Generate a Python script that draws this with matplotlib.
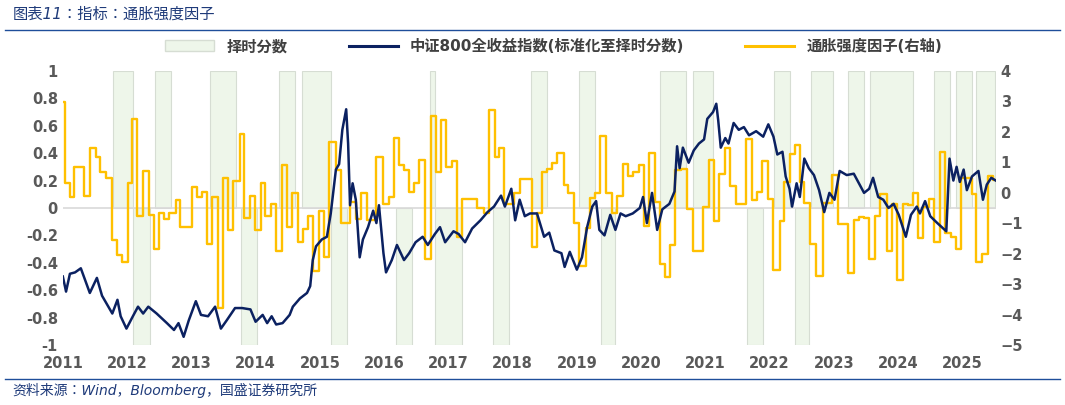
import numpy as np
import matplotlib.pyplot as plt
from matplotlib import font_manager
from matplotlib.patches import Patch
from matplotlib.lines import Line2D

cjk = [f for f in font_manager.findSystemFonts() if 'CJK' in f and 'Bold' not in f]
cjkb = [f for f in font_manager.findSystemFonts() if 'CJK' in f and 'Bold' in f]
for f in cjk + cjkb:
    font_manager.fontManager.addfont(f)
names = []
for f in cjk[:1] + cjkb[:1]:
    n = font_manager.FontProperties(fname=f).get_name()
    if n not in names:
        names.append(n)
plt.rcParams['font.family'] = ['DejaVu Sans'] + names + ['Noto Sans CJK SC', 'Noto Sans CJK JP']

# timing signal blocks: start year, end year, signal (+1 / -1)
sig_start = [2011.78, 2012.09, 2012.43, 2013.29, 2013.78, 2014.36, 2014.72, 2015.18, 2016.19, 2016.71,
             2016.80, 2017.70, 2018.29, 2019.04, 2019.37, 2020.30, 2020.81, 2021.65, 2022.07, 2022.40,
             2022.64, 2023.22, 2023.57, 2024.56, 2024.90, 2025.22]
sig_end = [2012.09, 2012.35, 2012.68, 2013.69, 2014.02, 2014.61, 2015.18, 2015.43, 2016.44, 2016.80,
           2017.21, 2017.95, 2018.53, 2019.29, 2019.60, 2020.70, 2021.12, 2021.89, 2022.32, 2022.62,
           2022.99, 2023.47, 2024.23, 2024.81, 2025.15, 2025.51]
sig_val = [1, -1, 1, 1, -1, 1, 1, -1, -1, 1,
           -1, -1, 1, 1, -1, 1, 1, -1, 1, -1,
           1, 1, 1, 1, 1, 1]

# CSI 800 (standardised) sampled points
csi_t = [2011.00, 2011.05, 2011.11, 2011.19, 2011.28, 2011.35, 2011.42, 2011.53, 2011.61, 2011.77,
         2011.85, 2011.90, 2011.99, 2012.09, 2012.17, 2012.25, 2012.33, 2012.46, 2012.62, 2012.73,
         2012.80, 2012.88, 2012.96, 2013.07, 2013.15, 2013.26, 2013.37, 2013.46, 2013.55, 2013.68,
         2013.79, 2013.92, 2014.00, 2014.11, 2014.18, 2014.25, 2014.32, 2014.42, 2014.53, 2014.58,
         2014.69, 2014.80, 2014.85, 2014.89, 2014.94, 2015.03, 2015.11, 2015.17, 2015.25, 2015.30,
         2015.35, 2015.41, 2015.44, 2015.47, 2015.51, 2015.56, 2015.62, 2015.67, 2015.75, 2015.83,
         2015.88, 2015.92, 2015.99, 2016.03, 2016.12, 2016.20, 2016.31, 2016.39, 2016.49, 2016.60,
         2016.68, 2016.79, 2016.87, 2016.95, 2017.08, 2017.16, 2017.26, 2017.37, 2017.50, 2017.61,
         2017.71, 2017.82, 2017.88, 2017.98, 2018.04, 2018.11, 2018.19, 2018.27,
         2018.38, 2018.49, 2018.57, 2018.65, 2018.76, 2018.81, 2018.89, 2019.00, 2019.08, 2019.16,
         2019.24, 2019.30, 2019.35, 2019.43, 2019.52, 2019.60, 2019.68, 2019.76, 2019.87, 2019.98,
         2020.03, 2020.09, 2020.17, 2020.25, 2020.33, 2020.44, 2020.52, 2020.56, 2020.60, 2020.65,
         2020.74, 2020.82, 2020.90, 2020.98, 2021.03, 2021.12, 2021.17, 2021.20, 2021.24, 2021.31,
         2021.36, 2021.44, 2021.52, 2021.60, 2021.68, 2021.79, 2021.90, 2021.98, 2022.06, 2022.12,
         2022.20, 2022.25, 2022.31, 2022.35, 2022.42, 2022.47, 2022.54, 2022.61, 2022.69, 2022.77,
         2022.85, 2022.93, 2023.01, 2023.09, 2023.20, 2023.31, 2023.39, 2023.47, 2023.55, 2023.61,
         2023.69, 2023.77, 2023.85, 2023.93, 2024.01, 2024.12, 2024.20, 2024.29, 2024.34, 2024.42,
         2024.50, 2024.61, 2024.75, 2024.80, 2024.86, 2024.91, 2024.96, 2025.02, 2025.07, 2025.15,
         2025.25, 2025.32, 2025.38, 2025.45, 2025.52]
csi_v = [-0.50, -0.61, -0.48, -0.47, -0.44, -0.53, -0.62, -0.51, -0.64, -0.77,
         -0.67, -0.79, -0.88, -0.79, -0.72, -0.77, -0.72, -0.77, -0.84, -0.89,
         -0.84, -0.94, -0.82, -0.68, -0.78, -0.79, -0.72, -0.88, -0.82, -0.73,
         -0.73, -0.74, -0.83, -0.78, -0.84, -0.79, -0.85, -0.84, -0.78, -0.72,
         -0.66, -0.62, -0.57, -0.38, -0.28, -0.23, -0.21, -0.04, 0.28, 0.32,
         0.57, 0.72, 0.47, 0.02, 0.18, 0.06, -0.36, -0.23, -0.14, -0.02,
         -0.11, 0.02, -0.33, -0.47, -0.38, -0.27, -0.38, -0.33, -0.25, -0.21,
         -0.27, -0.19, -0.14, -0.25, -0.17, -0.19, -0.25, -0.15, -0.09, -0.03,
         0.01, 0.09, 0.01, 0.14, -0.09, 0.06, -0.06, -0.04,
         -0.04, -0.21, -0.18, -0.31, -0.33, -0.43, -0.32, -0.45, -0.36, -0.14,
         0.01, 0.05, -0.16, -0.20, -0.05, -0.16, -0.04, -0.06, -0.04, 0.00,
         0.08, -0.11, 0.11, -0.16, -0.01, 0.03, 0.12, 0.45, 0.29, 0.44,
         0.33, 0.42, 0.47, 0.50, 0.65, 0.70, 0.76, 0.64, 0.44, 0.51,
         0.47, 0.62, 0.57, 0.59, 0.53, 0.56, 0.52, 0.61, 0.52, 0.39,
         0.41, 0.23, 0.14, 0.01, 0.18, 0.08, 0.36, 0.29, 0.24, 0.13,
         -0.03, 0.11, 0.06, 0.27, 0.24, 0.25, 0.18, 0.11, 0.14, 0.22,
         0.08, 0.06, 0.00, 0.03, -0.05, -0.21, -0.05, 0.01, -0.04, 0.05,
         -0.06, -0.11, -0.17, 0.36, 0.20, 0.30, 0.19, 0.28, 0.13, 0.23,
         0.27, 0.06, 0.17, 0.22, 0.20]

# inflation strength factor (right axis), step changes
inf_t = [2011.00, 2011.04, 2011.11, 2011.18, 2011.33, 2011.43, 2011.51, 2011.58, 2011.67, 2011.77,
         2011.84, 2011.92, 2012.01, 2012.08, 2012.16, 2012.25, 2012.34, 2012.42, 2012.50, 2012.58,
         2012.66, 2012.76, 2012.83, 2013.01, 2013.09, 2013.16, 2013.24, 2013.32, 2013.42, 2013.49,
         2013.57, 2013.65, 2013.75, 2013.82, 2013.91, 2013.99, 2014.08, 2014.15, 2014.24, 2014.32,
         2014.41, 2014.49, 2014.57, 2014.66, 2014.74, 2014.82, 2014.90, 2014.98, 2015.06, 2015.15,
         2015.25, 2015.33, 2015.47, 2015.56, 2015.64, 2015.73, 2015.88, 2015.98, 2016.07, 2016.15,
         2016.23, 2016.31, 2016.39, 2016.47, 2016.55, 2016.64, 2016.73, 2016.81, 2016.88, 2016.97,
         2017.05, 2017.13, 2017.22, 2017.45, 2017.56, 2017.63, 2017.73, 2017.79, 2017.87, 2018.02,
         2018.11, 2018.30, 2018.38, 2018.46, 2018.54, 2018.61, 2018.69, 2018.80, 2018.87, 2018.96,
         2019.04, 2019.15, 2019.21, 2019.29, 2019.36, 2019.46, 2019.54, 2019.62, 2019.72, 2019.80,
         2019.88, 2019.96, 2020.04, 2020.13, 2020.21, 2020.29, 2020.37, 2020.45, 2020.53, 2020.62,
         2020.71, 2020.81, 2020.97, 2021.05, 2021.13, 2021.21, 2021.30, 2021.39, 2021.47, 2021.63,
         2021.73, 2021.81, 2021.88, 2021.97, 2022.06, 2022.16, 2022.23, 2022.31, 2022.39, 2022.47,
         2022.54, 2022.63, 2022.72, 2022.83, 2022.97, 2023.07, 2023.22, 2023.31, 2023.39, 2023.47,
         2023.55, 2023.64, 2023.72, 2023.83, 2023.91, 2023.99, 2024.07, 2024.15, 2024.23, 2024.31,
         2024.39, 2024.48, 2024.56, 2024.65, 2024.73, 2024.82, 2024.90, 2024.98, 2025.07, 2025.15,
         2025.22, 2025.30, 2025.40, 2025.48, 2025.52]
inf_v = [2.97, 0.31, -0.14, 0.85, -0.10, 1.48, 1.17, 0.67, 0.49, -1.54,
         -2.03, -2.26, 0.31, 2.43, -0.77, 0.72, -0.73, -1.85, -0.68, -0.86,
         -0.68, -0.23, -1.13, 0.18, -0.14, 0.04, -1.67, -0.14, -3.79, 0.49,
         -1.22, 0.40, 1.93, -0.82, -0.10, -1.22, 0.31, -0.77, -0.37, -1.90,
         0.90, -1.13, 0.00, -1.63, -1.18, -0.77, -2.57, -0.59, -2.12, 1.66,
         0.76, -1.00, -0.32, -0.86, 0.00, -0.91, 1.17, -0.37, -0.14, 1.80,
         0.90, 0.76, 0.04, 0.31, 1.08, -2.17, 2.52, 0.67, 2.38, 0.85,
         1.03, -1.45, -0.19, -0.50, -0.68, 2.70, 1.17, 1.48, -0.37, 0.00,
         0.45, -1.78, -0.66, 0.68, 0.79, 0.98, 1.29, 0.25, 0.00, -1.00,
         -2.41, -1.17, -0.16, 0.00, 1.86, 0.00, -0.68, -0.11, 0.94, 0.54,
         0.68, 0.90, -1.10, 1.31, -0.30, -2.35, -2.76, -1.72, 0.76, 0.79,
         -0.52, -1.91, -0.46, 1.09, -0.92, 0.63, 1.48, 0.21, -0.38, 1.78,
         -0.25, 0.03, 1.05, -0.22, -2.52, -0.92, 0.36, 1.26, 1.56, 0.36,
         -0.35, -1.69, -2.74, -0.35, 0.58, -1.01, -2.65, -0.88, -0.79, -0.83,
         -2.16, -0.77, -0.05, -1.91, -0.38, -2.87, -0.38, -0.41, 0.00, -1.47,
         -0.46, -0.22, -1.61, 1.34, -1.32, -1.45, -1.86, 0.50, 0.47, -0.05,
         -2.27, -2.00, 0.54, 0.43, 0.43]

years = list(range(2011, 2026))

navy = '#0b2161'
gold = '#ffc000'
bar_fc = '#eef6ea'
bar_ec = '#d6ddd3'
fig = plt.figure(figsize=(10.65, 4.05), dpi=100)
ax = fig.add_axes([0.059, 0.148, 0.876, 0.677])
ax2 = ax.twinx()

# bars live on the left-axis scale; drawn via a transform so they sit behind the yellow line
for s, e, v in zip(sig_start, sig_end, sig_val):
    ax2.bar(s, v, width=e - s, align='edge', color=bar_fc, edgecolor=bar_ec, linewidth=0.8,
            zorder=1, transform=ax.transData)
ax2.axhline(-0.5, color='#d9d9d9', lw=1.2, zorder=1.5)
ax2.step(inf_t, inf_v, where='post', color=gold, lw=1.7, zorder=2)
ax2.set_ylim(-5, 4)
ax2.set_yticks(range(-5, 5))

ax.plot(csi_t, csi_v, color=navy, lw=1.8, zorder=3)
ax.set_xlim(2011, 2025.52)
ax.set_ylim(-1, 1)
ax.set_yticks(np.arange(-1, 1.01, 0.2))
ax.set_yticklabels(['-1', '-0.8', '-0.6', '-0.4', '-0.2', '0', '0.2', '0.4', '0.6', '0.8', '1'])
ax.set_xticks(years)
ax.set_xticklabels([str(y) for y in years])
ax.set_zorder(ax2.get_zorder() + 1)
ax.patch.set_visible(False)

for a in (ax, ax2):
    for sp in a.spines.values():
        sp.set_visible(False)
    a.tick_params(length=0, labelsize=10.5, labelcolor='#595959')
    for lab in a.get_xticklabels() + a.get_yticklabels():
        lab.set_fontweight('bold')
ax.tick_params(axis='x', pad=8)

handles = [Patch(facecolor=bar_fc, edgecolor=bar_ec, label='择时分数'),
           Line2D([], [], color=navy, lw=2.2, label='中证800全收益指数(标准化至择时分数)'),
           Line2D([], [], color=gold, lw=2.2, label='通胀强度因子(右轴)')]
leg = fig.legend(handles=handles, loc='center', bbox_to_anchor=(0.52, 0.885), ncol=3, frameon=False,
                 handlelength=3.2, columnspacing=4, prop={'weight': 'bold', 'size': 11})
for t in leg.get_texts():
    t.set_color('#404040')

fig.text(0.012, 0.965, '图表11：指标：通胀强度因子', color='#1f3b7a', fontsize=11, style='italic', va='center')
fig.add_artist(Line2D([0.005, 0.995], [0.925, 0.925], color='#1f4e9a', lw=1))
fig.add_artist(Line2D([0.005, 0.995], [0.065, 0.065], color='#1f4e9a', lw=1))
fig.text(0.012, 0.035, '资料来源：Wind，Bloomberg，国盛证券研究所', color='#1f3b7a', fontsize=10, style='italic', va='center')

fig.savefig('out.png', dpi=100)
